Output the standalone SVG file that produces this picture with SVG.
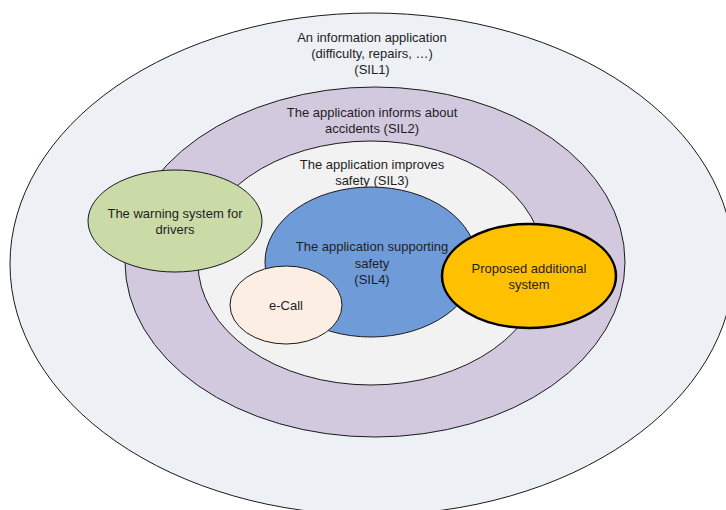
<svg xmlns="http://www.w3.org/2000/svg" width="726" height="510" viewBox="0 0 726 510">
<style>
.ring{stroke:#1a1a1a;stroke-width:1}
.t{font-family:"Liberation Sans",Arial,sans-serif;font-size:13px;fill:#1e1e1e;text-anchor:middle}
</style>
<rect width="726" height="510" fill="#ffffff"/>
<g id="sil1">
<ellipse class="ring" cx="372" cy="264" rx="362" ry="251" fill="#EDF0F5"/>
<text class="t" x="372" y="42">An information application</text>
<text class="t" x="372" y="58">(difficulty, repairs, …)</text>
<text class="t" x="372" y="74">(SIL1)</text>
</g>
<g id="sil2">
<ellipse class="ring" cx="375" cy="262" rx="250" ry="175" fill="#D2C9DF"/>
<text class="t" x="372" y="117">The application informs about</text>
<text class="t" x="372" y="133">accidents (SIL2)</text>
</g>
<g id="sil3">
<ellipse class="ring" cx="371" cy="263" rx="173" ry="122" fill="#F2F2F2"/>
<text class="t" x="372" y="169">The application improves</text>
<text class="t" x="372" y="185">safety (SIL3)</text>
</g>
<g id="sil4">
<ellipse class="ring" cx="371" cy="262" rx="106" ry="75" fill="#6F9CD9"/>
<text class="t" x="372" y="251">The application supporting</text>
<text class="t" x="372" y="268">safety</text>
<text class="t" x="372" y="284">(SIL4)</text>
</g>
<g id="warning">
<ellipse class="ring" cx="175" cy="221" rx="87" ry="51" fill="#CBDBA8"/>
<text class="t" x="175" y="218">The warning system for</text>
<text class="t" x="175" y="234">drivers</text>
</g>
<g id="ecall">
<ellipse class="ring" cx="286" cy="305" rx="56" ry="39" fill="#FDEEE3"/>
<text class="t" x="286" y="310">e-Call</text>
</g>
<g id="proposed">
<ellipse cx="529" cy="276" rx="87" ry="52" fill="#FFC000" stroke="#000" stroke-width="2.5"/>
<text class="t" x="529" y="273">Proposed additional</text>
<text class="t" x="529" y="289">system</text>
</g>
<g id="connectors"></g>
</svg>
